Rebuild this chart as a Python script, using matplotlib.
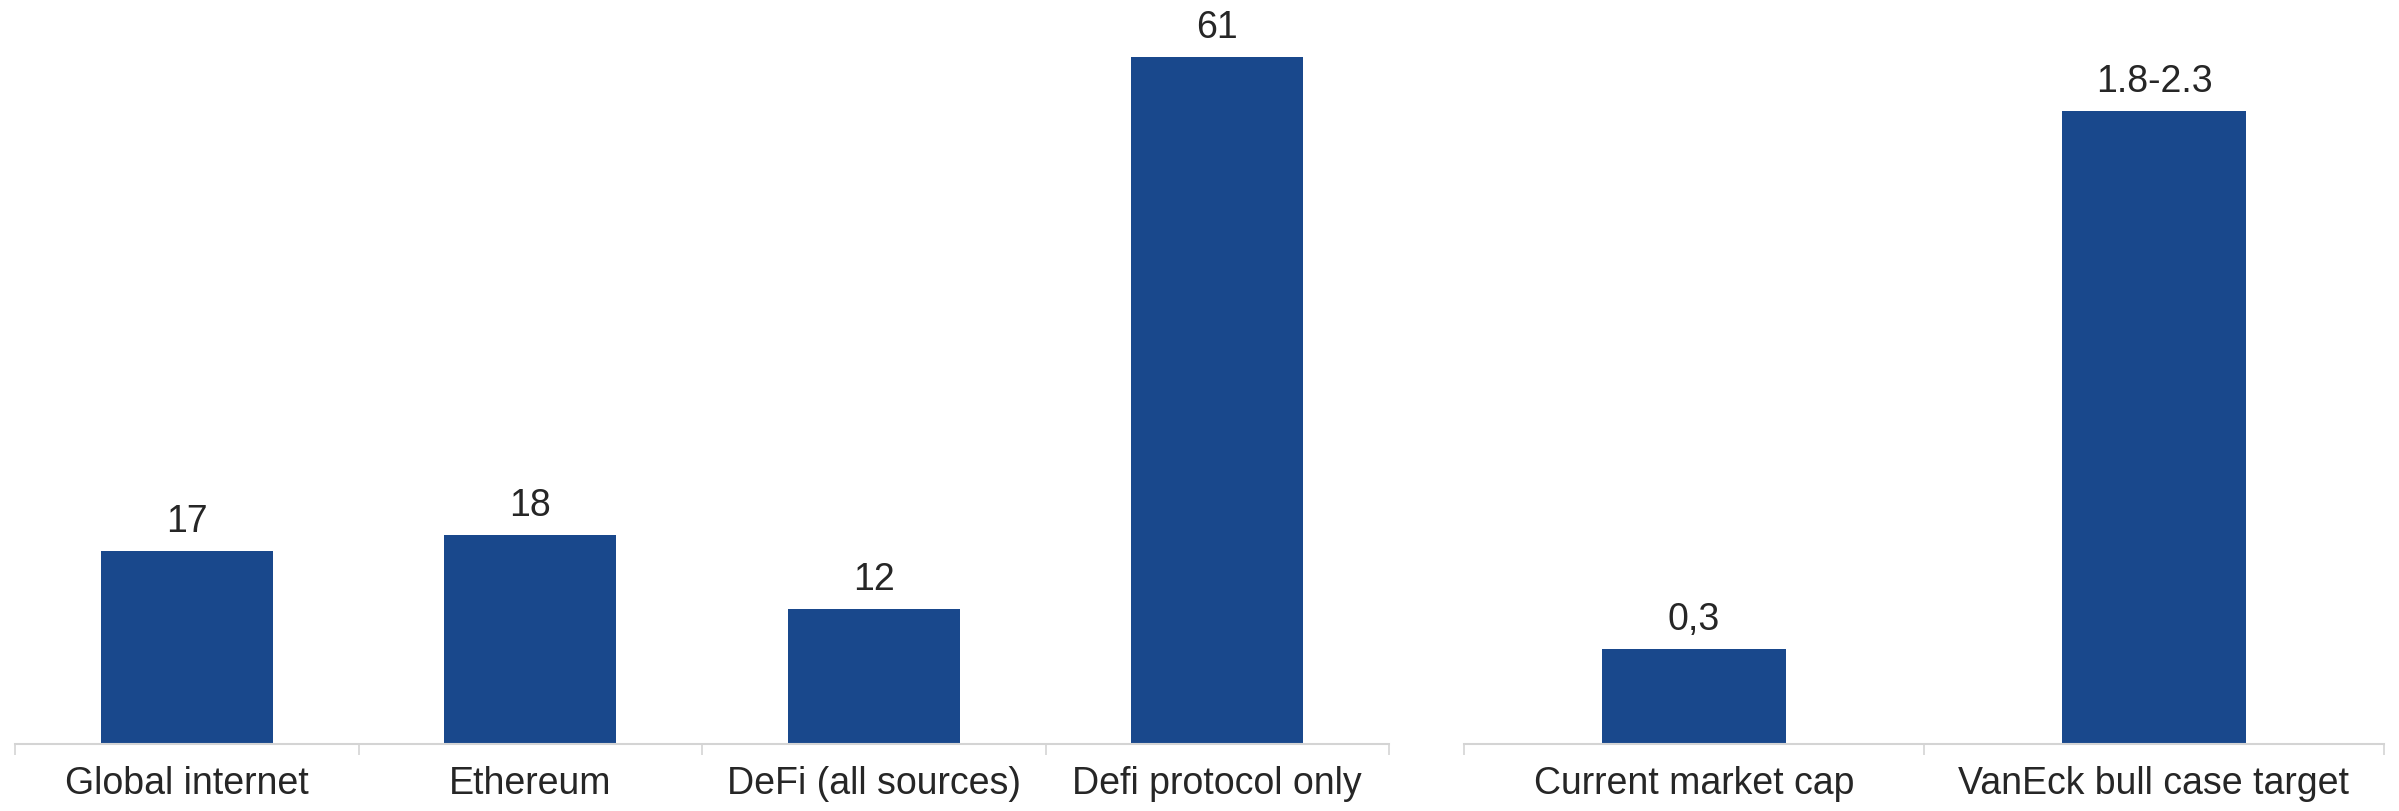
import matplotlib
matplotlib.use("Agg")
import matplotlib.pyplot as plt
import numpy as np

# Left panel data
left_categories = ["Global internet", "Ethereum", "DeFi (all sources)", "Defi protocol only"]
left_values = [17.1, 18.6, 12.0, 61.0]
left_labels = ["17", "18", "12", "61"]

# Right panel data
right_categories = ["Current market cap", "VanEck bull case target"]
right_values = [0.3, 2.0]
right_labels = ["0,3", "1.8-2.3"]

BAR = "#19488C"
TXT = "#262626"
AXC = "#D4D4D4"
FS = 27

plt.rcParams["font.family"] = ["Liberation Sans", "DejaVu Sans"]

W, H = 2399, 811
fig = plt.figure(figsize=(W / 100, H / 100), dpi=100)

axis_y = 744
bottom = (H - axis_y) / H
height = axis_y / H

axL = fig.add_axes([15 / W, bottom, (1389 - 15) / W, height])
axR = fig.add_axes([1464 / W, bottom, (2384 - 1464) / W, height])


def style(ax, cats, vals, labels, width, ytop):
    x = np.arange(len(cats))
    bars = ax.bar(x, vals, width=width, color=BAR, zorder=2)
    ax.set_xlim(-0.5, len(cats) - 0.5)
    ax.set_ylim(0, ytop)
    for s in ["top", "right", "left"]:
        ax.spines[s].set_visible(False)
    ax.spines["bottom"].set_color(AXC)
    ax.spines["bottom"].set_linewidth(1.5)
    ax.set_yticks([])
    ax.set_xticks(x)
    ax.set_xticklabels(cats, fontsize=FS, color=TXT)
    ax.tick_params(axis="x", which="major", length=0, pad=16)
    ax.set_xticks(np.arange(-0.5, len(cats)), minor=True)
    ax.tick_params(axis="x", which="minor", length=8, width=1.2, color=AXC)
    for b, lab in zip(bars, labels):
        ax.annotate(lab, (b.get_x() + b.get_width() / 2, b.get_height()),
                    xytext=(0, 13.7), textcoords="offset points",
                    ha="center", va="baseline", fontsize=FS, color=TXT)


style(axL, left_categories, left_values, left_labels, 0.5, 66.07)
style(axR, right_categories, right_values, right_labels, 0.40, 2.35)

fig.savefig("out.png", dpi=100)
